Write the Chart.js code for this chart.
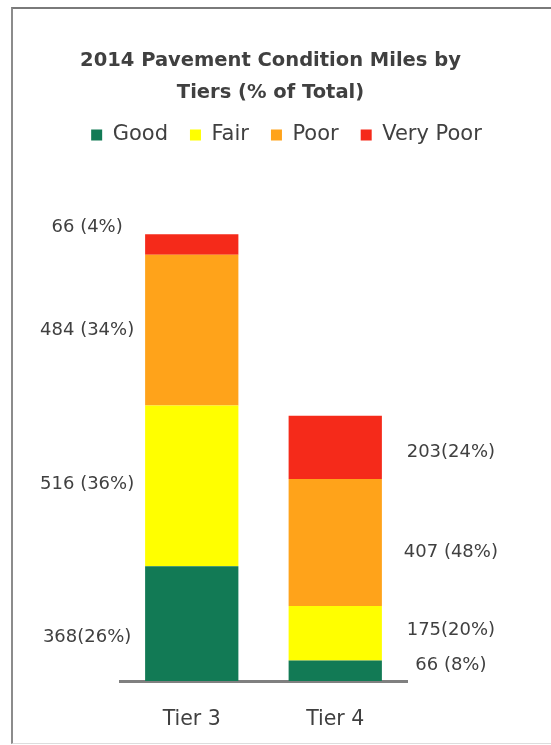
<!DOCTYPE html>
<html>
<head>
<meta charset="utf-8">
<script src="https://cdn.jsdelivr.net/npm/chart.js@4"></script>
<style>
  html, body { margin: 0; padding: 0; background: #ffffff; }
  #wrap { position: relative; width: 551px; height: 745px; overflow: hidden; }
  #frame { position: absolute; left: 11px; top: 7px; width: 600px; height: 734px;
           border-left: 2px solid #8c8c8c; border-top: 2px solid #7a7a7a; border-bottom: 1px solid #dddddd; }
  canvas { position: absolute; left: 0; top: 0; }
</style>
</head>
<body>
<div id="wrap">
  <div id="frame"></div>
  <canvas id="c" width="551" height="745"></canvas>
</div>
<script>
// ---- data ----
const categories = ["Tier 3", "Tier 4"];
const seriesNames = ["Good", "Fair", "Poor", "Very Poor"];
const goodMiles = [368, 66];
const fairMiles = [516, 175];
const poorMiles = [484, 407];
const veryPoorMiles = [66, 203];
const goodLabels = ["368(26%)", "66 (8%)"];
const fairLabels = ["516 (36%)", "175(20%)"];
const poorLabels = ["484 (34%)", "407 (48%)"];
const veryPoorLabels = ["66 (4%)", "203(24%)"];
const titleLines = ["2014 Pavement Condition Miles by", "Tiers (% of Total)"];

// ---- styles ----
const colors = ["#127a55", "#ffff00", "#ffa31a", "#f52a1a"];
const textColor = "#404040";
const fontFamily = "'DejaVu Sans', sans-serif";
// vertical nudges of the value labels (px), per series, per category
const labelNudge = [[14, -5], [-2, -3], [0, 10], [-17, 5]];

const seriesValues = [goodMiles, fairMiles, poorMiles, veryPoorMiles];
const seriesLabels = [goodLabels, fairLabels, poorLabels, veryPoorLabels];

const datasets = seriesNames.map((name, i) => ({
  label: name,
  data: seriesValues[i],
  backgroundColor: colors[i],
  borderWidth: 0,
  barPercentage: 0.65,
  categoryPercentage: 1.0
}));

const shiftPlugin = {
  id: 'shiftBoxes',
  afterLayout(chart) {
    const t = chart.titleBlock, l = chart.legend;
    if (t) { t.left -= 5; t.right -= 5; }
    if (l) { l.left += 11; l.right += 11; l.top += 1; l.bottom += 1; }
  }
};

const valueLabels = {
  id: 'valueLabels',
  afterDatasetsDraw(chart) {
    const ctx = chart.ctx;
    ctx.save();
    ctx.font = "18px " + fontFamily;
    ctx.fillStyle = textColor;
    ctx.textAlign = 'center';
    ctx.textBaseline = 'middle';
    chart.data.datasets.forEach((ds, i) => {
      const meta = chart.getDatasetMeta(i);
      meta.data.forEach((el, j) => {
        const yc = (el.y + el.base) / 2 + labelNudge[i][j];
        const x = j === 0 ? el.x - el.width / 2 - 58 : el.x + el.width / 2 + 69;
        ctx.fillText(seriesLabels[i][j], x, yc);
      });
    });
    ctx.restore();
  }
};

const hiddenAxis = (pos, w) => ({
  position: pos,
  display: true,
  grid: { display: false, drawTicks: false },
  border: { display: false },
  ticks: { display: false },
  afterFit(scale) { scale.width = w; }
});

new Chart(document.getElementById('c'), {
  type: 'bar',
  data: { labels: categories, datasets },
  options: {
    responsive: false,
    animation: false,
    devicePixelRatio: 1,
    layout: { padding: 0 },
    plugins: {
      title: {
        display: true,
        text: titleLines,
        color: textColor,
        font: { family: fontFamily, size: 19.5, weight: 'bold', lineHeight: 1.64 },
        padding: { top: 45, bottom: -7.5 }
      },
      legend: {
        display: true,
        position: 'top',
        labels: {
          color: textColor,
          font: { family: fontFamily, size: 21 },
          boxWidth: 11,
          boxHeight: 11,
          padding: 22
        }
      },
      tooltip: { enabled: false }
    },
    scales: {
      x: {
        stacked: true,
        grid: { display: false, drawTicks: false },
        border: { display: true, color: '#808080', width: 3 },
        ticks: { color: textColor, font: { family: fontFamily, size: 20.5 }, padding: 26 },
        afterFit(scale) { scale.height = 64; }
      },
      y: Object.assign(hiddenAxis('left', 120), { stacked: true, min: 0, max: 1690 }),
      y2: hiddenAxis('right', 144)
    }
  },
  plugins: [shiftPlugin, valueLabels]
});
</script>
</body>
</html>
